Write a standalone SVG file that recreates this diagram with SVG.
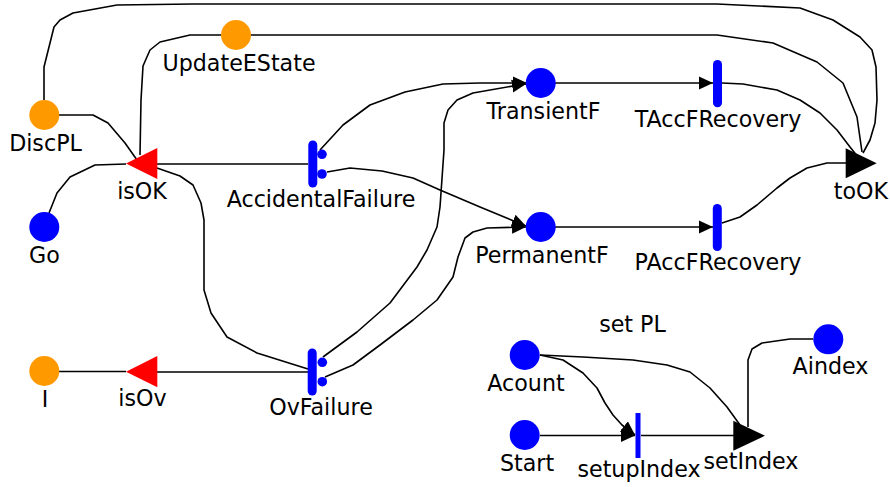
<svg xmlns="http://www.w3.org/2000/svg" width="890" height="487" viewBox="0 0 890 487">
<style>
text{font-family:"DejaVu Sans","Liberation Sans",sans-serif;font-size:22.2px;fill:#000;text-anchor:middle}
.arc{fill:none;stroke:#000;stroke-width:1.6;stroke-linejoin:round}
.po{fill:#FF9900}
.pb{fill:#0000FF}
.bar{stroke:#0000FF;stroke-width:9;stroke-linecap:round}
.dot{fill:#0000FF}
</style>
<defs>
<marker id="ah" markerUnits="userSpaceOnUse" markerWidth="15" markerHeight="14" refX="14" refY="7" orient="auto">
<path d="M0,0.5 L14,7 L0,13.5 z" fill="#000"/>
</marker>
</defs>
<rect width="890" height="487" fill="#fff"/>
<g id="connectors">
<polyline class="arc" points="44,100 44,67 54,27 60,20 73,13 117,5 193,4 717,4 800,8 833,20 860,37 872,50 876,67 877,100 875,123 870,140 863,153"/>
<polyline class="arc" points="221,35 190,35 160,42 150,50 143,66 141,100 140,155"/>
<polyline class="arc" points="251,35 717,35 773,43 817,62 843,83 857,117 862,152"/>
<polyline class="arc" points="59,115 93,115 108,123 125,143 137,160"/>
<polyline class="arc" points="49,213 57,193 70,177 95,165 126,164"/>
<line class="arc" x1="308" y1="164" x2="157" y2="164"/>
<polyline class="arc" points="157,168 180,176 193,185 201,203 204,220 204,290 211,313 227,337 257,353 308,369"/>
<line class="arc" x1="308" y1="372" x2="157" y2="372"/>
<line class="arc" x1="59" y1="371.5" x2="126" y2="371.5"/>
<polyline class="arc" marker-end="url(#ah)" points="320,150 343,125 370,105 405,92 443,84 480,83 527,83"/>
<polyline class="arc" marker-end="url(#ah)" points="327,172 350,168 382,171 413,178 440,190 480,207 526,226"/>
<polyline class="arc" marker-end="url(#ah)" points="323,357 357,332 390,303 417,267 427,250 437,227 440,207 444,150 444,123 448,110 457,100 473,93 513,86 526,84"/>
<polyline class="arc" marker-end="url(#ah)" points="325,377 353,365 380,345 413,320 437,300 453,277 458,257 465,238 473,232 487,228 526,227"/>
<line class="arc" marker-end="url(#ah)" x1="555" y1="83" x2="713" y2="83"/>
<line class="arc" marker-end="url(#ah)" x1="555" y1="227" x2="713" y2="227"/>
<polyline class="arc" points="722,83 743,84 777,90 800,100 820,113 837,130 850,147 858,157"/>
<polyline class="arc" points="722,223 740,217 757,205 777,188 790,178 807,168 827,163 846,163"/>
<polyline class="arc" marker-end="url(#ah)" points="540,355 563,360 583,373 597,388 605,403 613,415 622,425 635,435"/>
<polyline class="arc" points="540,355 583,357 633,360 667,365 690,372 710,388 727,407 740,425"/>
<line class="arc" marker-end="url(#ah)" x1="540" y1="435.5" x2="635" y2="435.5"/>
<line class="arc" x1="641" y1="435.5" x2="734" y2="435.5"/>
<polyline class="arc" points="748,427 748,360 752,349 762,343 790,339 813,339"/>
</g>
<g id="UpdateEState"><circle class="po" cx="236" cy="35" r="15"/><text x="239" y="71">UpdateEState</text></g>
<g id="DiscPL"><circle class="po" cx="44.3" cy="115" r="15"/><text x="45.5" y="151">DiscPL</text></g>
<g id="Go"><circle class="pb" cx="44.3" cy="227" r="15"/><text x="44.5" y="263">Go</text></g>
<g id="I"><circle class="po" cx="44.3" cy="371" r="15"/><text x="45" y="407">I</text></g>
<g id="TransientF"><circle class="pb" cx="540.7" cy="83" r="15"/><text x="543.5" y="119">TransientF</text></g>
<g id="PermanentF"><circle class="pb" cx="540.7" cy="227" r="15"/><text x="542" y="263">PermanentF</text></g>
<g id="Acount"><circle class="pb" cx="524.7" cy="355" r="15"/><text x="526" y="391">Acount</text></g>
<g id="Start"><circle class="pb" cx="524.7" cy="435" r="15"/><text x="527" y="471">Start</text></g>
<g id="Aindex"><circle class="pb" cx="828.3" cy="339.3" r="15"/><text x="830.5" y="374">Aindex</text></g>
<g id="isOK"><polygon points="126,163.5 157.3,148 157.3,179" fill="#FF0000"/><text x="142" y="199">isOK</text></g>
<g id="isOv"><polygon points="126,371.7 157.3,356 157.3,387.3" fill="#FF0000"/><text x="142.5" y="406">isOv</text></g>
<g id="toOK"><polygon points="845.7,148.3 876.7,163.3 845.7,178.3" fill="#000"/><text x="861" y="198.5">toOK</text></g>
<g id="setIndex"><polygon points="733.3,420.7 765,435.7 733.3,450.7" fill="#000"/><text x="751" y="469">setIndex</text></g>
<g id="AccidentalFailure"><line class="bar" x1="312.8" y1="145" x2="312.8" y2="183"/><circle class="dot" cx="322" cy="154.3" r="4.8"/><circle class="dot" cx="322" cy="174" r="4.8"/><text x="321" y="207">AccidentalFailure</text></g>
<g id="OvFailure"><line class="bar" x1="312.2" y1="353" x2="312.2" y2="391"/><circle class="dot" cx="322.3" cy="362.3" r="4.8"/><circle class="dot" cx="322.3" cy="381.7" r="4.8"/><text x="321" y="415">OvFailure</text></g>
<g id="TAccFRecovery"><line class="bar" x1="717.5" y1="64.5" x2="717.5" y2="102.8"/><text x="718" y="127">TAccFRecovery</text></g>
<g id="PAccFRecovery"><line class="bar" x1="717.3" y1="208.5" x2="717.3" y2="246.5"/><text x="718" y="270">PAccFRecovery</text></g>
<g id="setupIndex"><line x1="638" y1="413" x2="638" y2="458" stroke="#0000FF" stroke-width="5"/><text x="639" y="477">setupIndex</text></g>
<text x="632.5" y="332">set PL</text>
</svg>
